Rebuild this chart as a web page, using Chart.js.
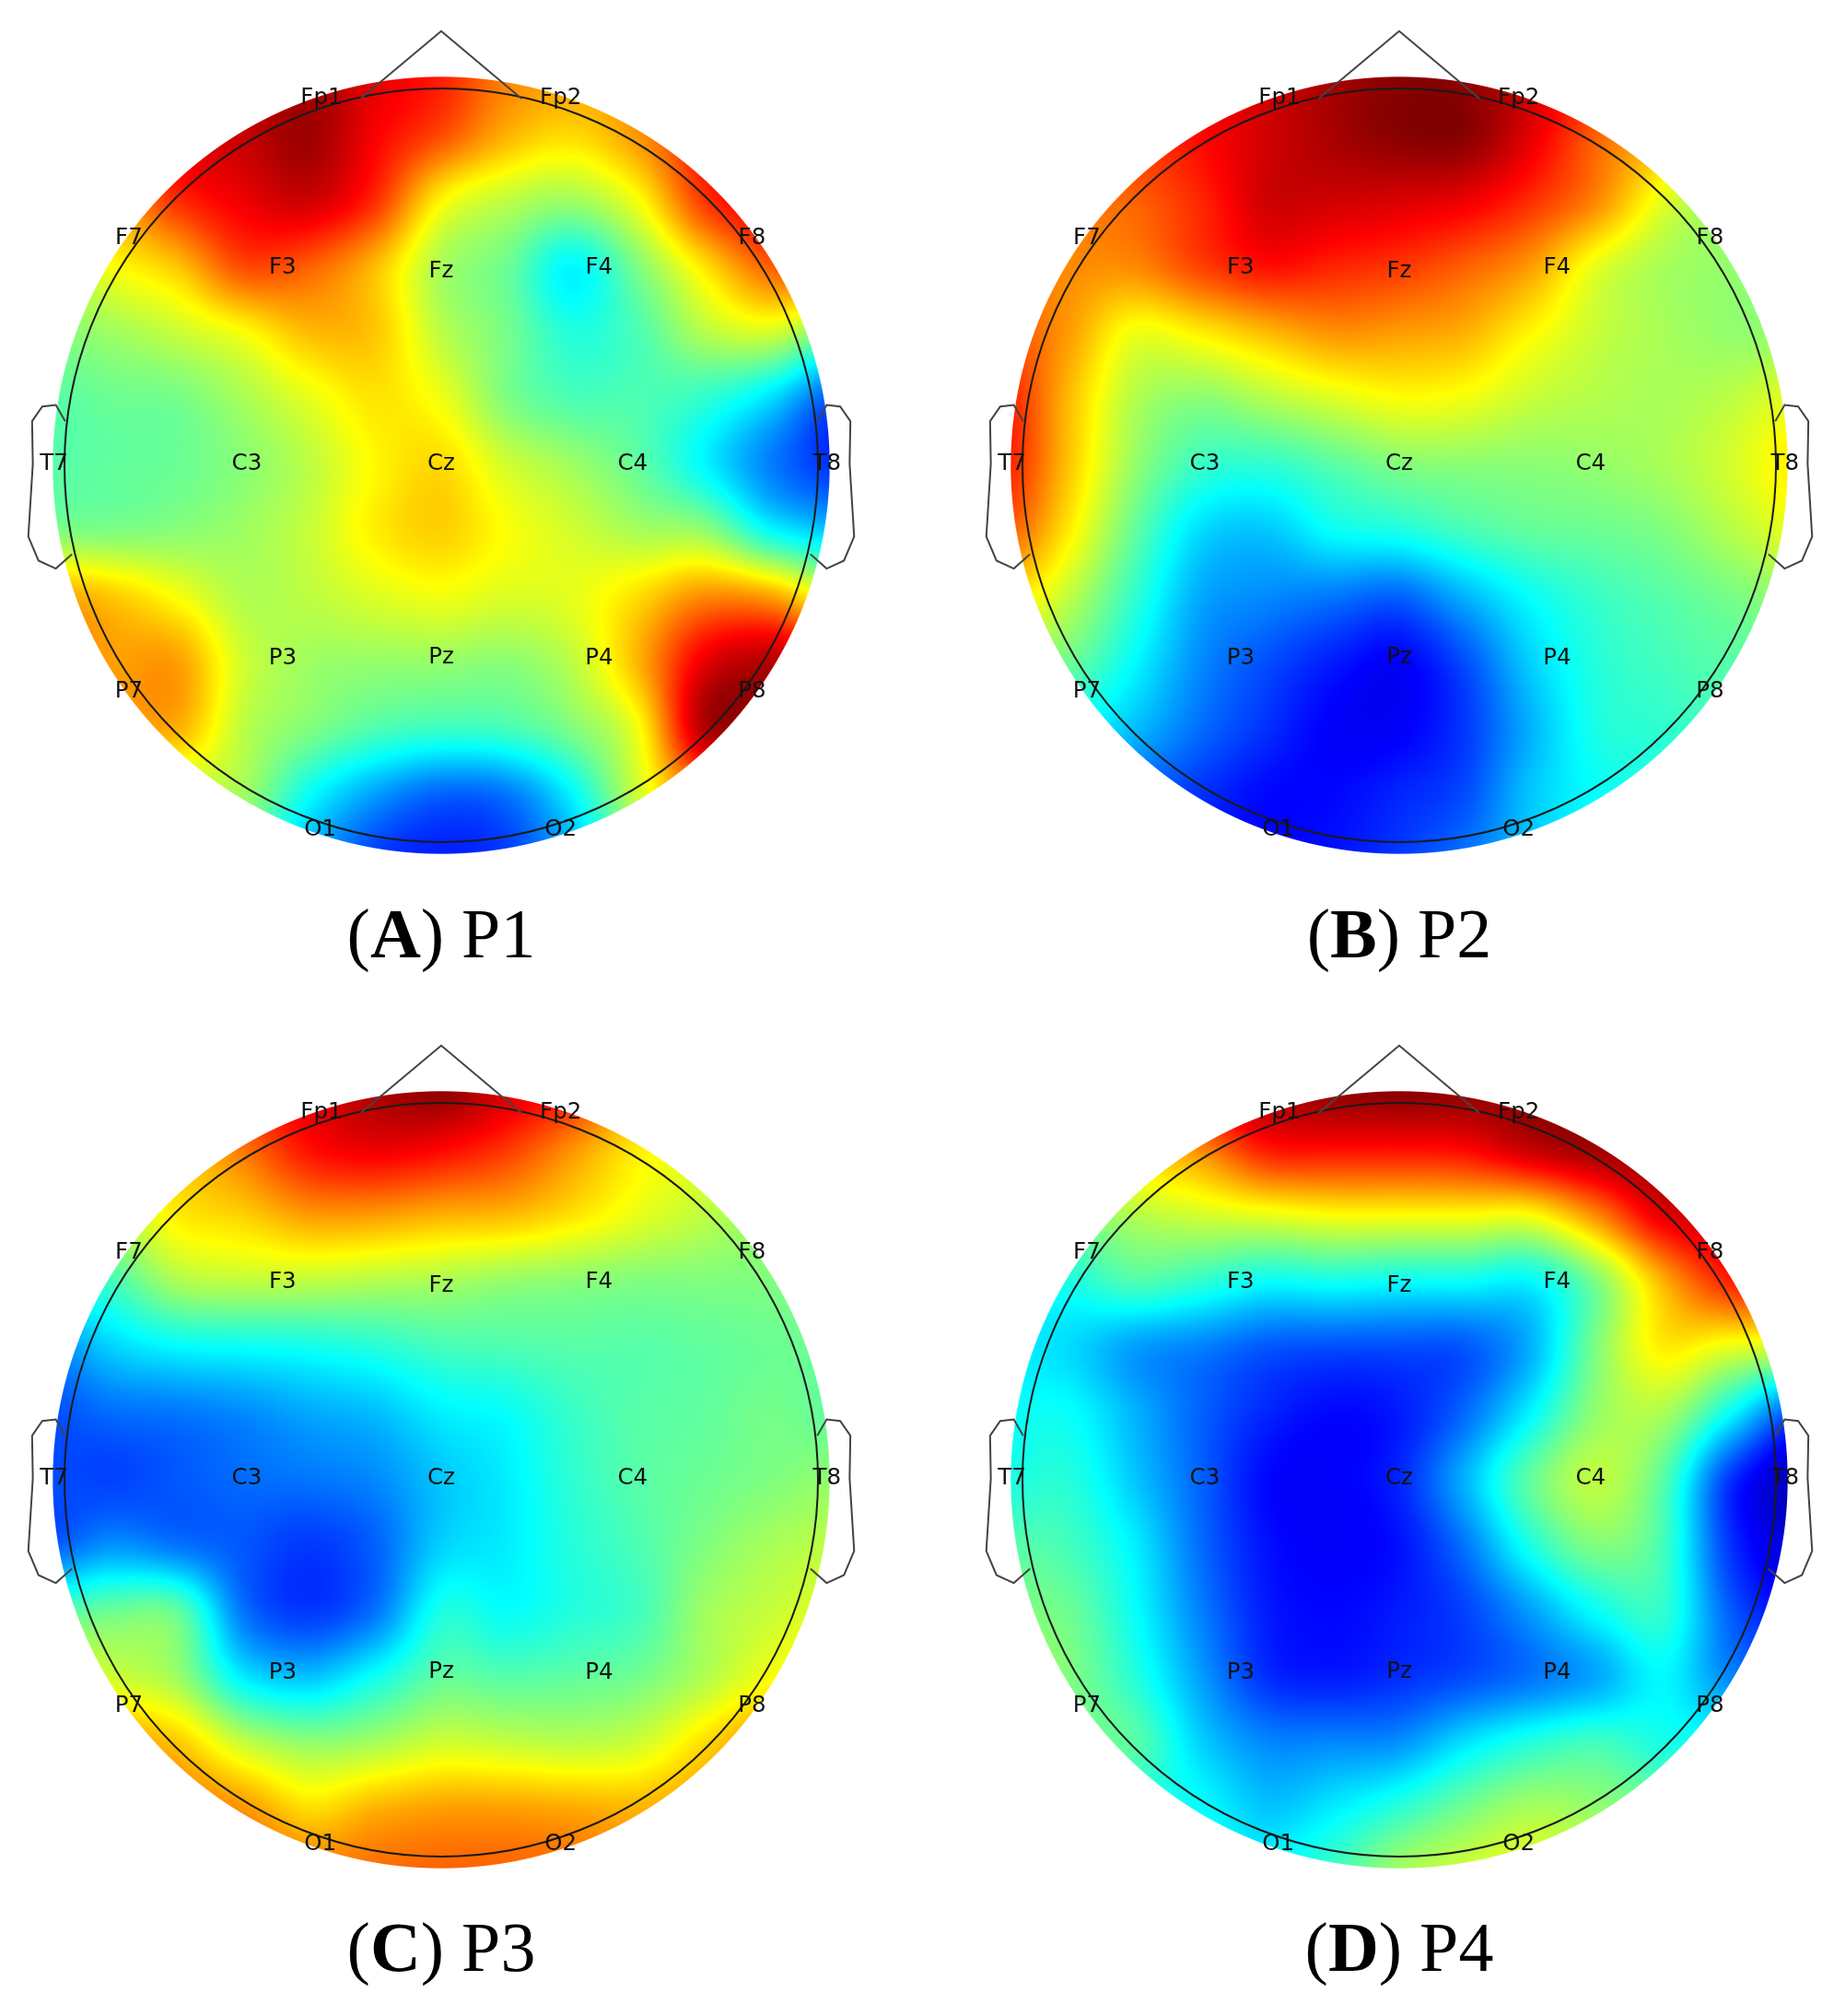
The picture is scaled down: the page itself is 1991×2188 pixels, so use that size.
<!DOCTYPE html>
<html>
<head>
<meta charset="utf-8">
<title>Topographic maps P1-P4</title>
<script src="https://cdn.jsdelivr.net/npm/chart.js@4/dist/chart.umd.min.js"></script>
<style>
  html, body { margin: 0; padding: 0; background: #fff; }
  body { position: relative; width: 1991px; height: 2188px; overflow: hidden; }
  canvas { position: absolute; filter: blur(0.7px); }
  .caption { position: absolute; width: 700px; text-align: center; font: 76px "Liberation Serif", serif; line-height: 90px; color: #000; }
</style>
</head>
<body>
<canvas id="mapA" width="920" height="980" style="left:19px;top:15px"></canvas>
<canvas id="mapB" width="920" height="980" style="left:1059px;top:15px"></canvas>
<canvas id="mapC" width="920" height="980" style="left:19px;top:1116px"></canvas>
<canvas id="mapD" width="920" height="980" style="left:1059px;top:1116px"></canvas>
<div class="caption" style="left:129px;top:968px">(<b>A</b>) P1</div>
<div class="caption" style="left:1169px;top:968px">(<b>B</b>) P2</div>
<div class="caption" style="left:129px;top:2068px">(<b>C</b>) P3</div>
<div class="caption" style="left:1169px;top:2068px">(<b>D</b>) P4</div>

<script>
// electrode names and where they sit on the unit head
var electrodes = ["Fp1","Fp2","F7","F3","Fz","F4","F8","T7","C3","Cz","C4","T8","P7","P3","Pz","P4","P8","O1","O2"];
var electrodeX = [-0.318,0.317,-0.829,-0.421,0,0.419,0.825,-1.028,-0.516,0,0.508,1.024,-0.829,-0.421,0,0.419,0.825,-0.321,0.317];
var electrodeY = [0.973,0.973,0.602,0.524,0.515,0.524,0.602,0.003,0.003,0.003,0.003,0.003,-0.6,-0.513,-0.509,-0.513,-0.6,-0.968,-0.968];

// head outline
var noseX = [-0.214,0,0.213];
var noseY = [0.973,1.152,0.973];
var earX = [0.998,1.023,1.059,1.086,1.084,1.096,1.069,1.023,0.980];
var earY = [0.117,0.160,0.156,0.117,0.004,-0.189,-0.253,-0.274,-0.236];
var earLeftX = earX.map(function(v){ return -v; });

// sample positions for the amplitude grids, rows run top to bottom
var gridX = [-1.05,-0.875,-0.7,-0.525,-0.35,-0.175,0,0.175,0.35,0.525,0.7,0.875,1.05];
var gridY = [1.05,0.875,0.7,0.525,0.35,0.175,0,-0.175,-0.35,-0.525,-0.7,-0.875,-1.05];

// amplitudes on the jet scale 0-100
var gridA = [
  [90,90,90,92,95,90,85,75,72,72,75,80,80],
  [85,88,90,93,97,88,80,70,66,73,85,88,88],
  [70,72,83,89,92,83,63,56,53,62,82,90,90],
  [55,62,68,80,78,69,54,48,37,50,65,78,80],
  [50,53,57,62,69,68,56,49,41,45,55,58,48],
  [46,48,49,54,60,65,61,50,45,45,42,34,20],
  [46,47,48,51,56,63,66,58,53,47,37,25,17],
  [50,50,51,53,57,64,67,62,58,54,52,38,32],
  [72,68,62,55,56,59,61,59,60,66,74,72,60],
  [76,72,72,58,53,52,52,51,56,70,90,95,90],
  [68,70,70,56,50,45,43,44,50,62,95,95,90],
  [55,55,55,53,38,28,22,24,37,58,75,80,80],
  [50,50,50,45,30,18,15,18,30,50,60,70,70]
];
var gridB = [
  [85,85,85,88,92,96,99,98,92,85,75,65,60],
  [80,80,82,87,92,96,99,99,90,78,70,60,55],
  [76,76,78,84,92,92,91,89,83,74,60,52,50],
  [76,74,74,81,86,84,82,78,72,60,54,52,50],
  [80,72,61,64,69,73,72,70,63,57,54,52,52],
  [85,69,55,51,55,59,62,61,57,55,54,56,60],
  [85,68,52,43,42,46,50,51,51,52,54,58,64],
  [79,64,47,34,32,38,40,44,47,48,50,55,60],
  [66,56,42,29,26,24,22,30,38,43,46,49,52],
  [52,48,37,26,20,15,12,20,33,41,44,46,46],
  [40,38,31,23,17,12,12,18,30,40,42,44,44],
  [25,25,22,17,13,13,16,20,32,38,40,42,42],
  [18,18,16,14,13,14,18,24,32,38,40,40,40]
];
var gridC = [
  [70,72,78,85,90,96,99,92,85,70,65,60,58],
  [60,62,68,76,86,89,87,82,73,64,60,55,52],
  [50,55,64,67,72,72,70,69,65,60,56,52,50],
  [38,44,54,56,56,55,54,52,51,50,50,50,50],
  [25,33,37,38,39,41,44,45,46,46,47,48,48],
  [20,23,24,26,29,31,36,38,43,46,47,49,47],
  [20,19,21,23,24,26,32,36,42,46,48,50,52],
  [21,27,24,21,18,22,33,36,41,45,50,54,56],
  [45,48,47,24,18,24,40,38,41,44,53,57,60],
  [62,58,53,36,32,39,47,46,47,49,55,62,66],
  [72,72,68,57,52,54,58,57,56,58,66,74,72],
  [76,76,76,73,66,70,72,72,71,70,73,76,74],
  [78,78,78,78,76,77,78,78,77,74,74,74,74]
];
var gridD = [
  [70,75,85,92,96,99,100,99,98,97,95,90,88],
  [60,62,68,74,85,86,86,87,93,97,98,95,92],
  [48,50,55,58,60,62,62,62,62,74,90,92,90],
  [38,40,45,42,38,39,38,38,37,50,70,84,85],
  [36,34,28,25,21,20,20,21,30,50,64,60,58],
  [38,38,30,22,16,13,15,23,37,52,54,38,20],
  [40,41,32,22,13,12,16,30,47,56,46,18,6],
  [46,44,36,23,14,12,14,24,40,50,44,18,8],
  [50,48,38,25,15,13,15,19,28,38,42,22,12],
  [54,50,41,28,17,15,17,20,24,29,37,26,22],
  [48,48,46,33,26,26,27,35,41,44,40,38,36],
  [40,40,40,38,32,36,42,49,54,52,48,46,46],
  [38,38,38,38,38,44,54,58,60,56,52,50,50]
];

var headRadius = 409;    // px for one head unit
var discRadius = 1.031;  // the colour runs a bit past the head circle

function clamp01(v){
  return v < 0 ? 0 : (v > 1 ? 1 : v);
}

function jet(v){
  var t = clamp01(v / 100);
  return [
    255 * clamp01(Math.min(4 * t - 1.5, -4 * t + 4.5)),
    255 * clamp01(Math.min(4 * t - 0.5, -4 * t + 3.5)),
    255 * clamp01(Math.min(4 * t + 0.5, -4 * t + 2.5))
  ];
}

function cubic(a, b, c, d, t){
  return b + 0.5 * t * (c - a + t * (2 * a - 5 * b + 4 * c - d + t * (3 * (b - c) + d - a)));
}

function sampleGrid(grid, x, y){
  var step = gridX[1] - gridX[0];
  var last = gridX.length - 1;
  var fx = (x - gridX[0]) / step;
  var fy = (gridY[0] - y) / step;
  var ix = Math.max(0, Math.min(last - 1, Math.floor(fx)));
  var iy = Math.max(0, Math.min(last - 1, Math.floor(fy)));
  var col = [];
  for(var j = -1; j <= 2; j++){
    var row = grid[Math.max(0, Math.min(last, iy + j))];
    col.push(cubic(
      row[Math.max(0, ix - 1)], row[ix], row[ix + 1], row[Math.min(last, ix + 2)], fx - ix
    ));
  }
  return cubic(col[0], col[1], col[2], col[3], fy - iy);
}

// paints the field, one pixel at a time, through the chart scales
var fieldPlugin = {
  id: "field",
  beforeDatasetsDraw: function(chart){
    var grid = chart.options.plugins.field.grid;
    var sx = chart.scales.x;
    var sy = chart.scales.y;
    var w = chart.width;
    var h = chart.height;
    var unit = Math.abs(sx.getPixelForValue(1) - sx.getPixelForValue(0));
    var img = chart.ctx.createImageData(w, h);
    for(var py = 0; py < h; py++){
      var yv = sy.getValueForPixel(py + 0.5);
      for(var px = 0; px < w; px++){
        var xv = sx.getValueForPixel(px + 0.5);
        var dist = Math.sqrt(xv * xv + yv * yv);
        var alpha = clamp01((discRadius - dist) * unit + 0.5);
        if(alpha <= 0) continue;
        var c = jet(sampleGrid(grid, xv, yv));
        var k = (py * w + px) * 4;
        img.data[k] = c[0];
        img.data[k + 1] = c[1];
        img.data[k + 2] = c[2];
        img.data[k + 3] = 255 * alpha;
      }
    }
    chart.ctx.putImageData(img, 0, 0);

    chart.ctx.save();
    chart.ctx.strokeStyle = "#1a1a1a";
    chart.ctx.lineWidth = 2;
    chart.ctx.beginPath();
    chart.ctx.arc(sx.getPixelForValue(0), sy.getPixelForValue(0), unit, 0, Math.PI * 2);
    chart.ctx.stroke();
    chart.ctx.restore();
  }
};

// electrode names go on top of everything
var namePlugin = {
  id: "names",
  afterDatasetsDraw: function(chart){
    var ctx = chart.ctx;
    ctx.save();
    ctx.font = "24.5px 'DejaVu Sans'";
    ctx.fillStyle = "#111";
    ctx.textAlign = "center";
    ctx.textBaseline = "middle";
    electrodes.forEach(function(name, i){
      ctx.fillText(name, chart.scales.x.getPixelForValue(electrodeX[i]), chart.scales.y.getPixelForValue(electrodeY[i]));
    });
    ctx.restore();
  }
};

function toPoints(xs, ys){
  return xs.map(function(x, i){ return {x: x, y: ys[i]}; });
}

function outline(xs, ys){
  return {
    data: toPoints(xs, ys),
    showLine: true,
    borderColor: "#444",
    borderWidth: 2,
    pointRadius: 0,
    fill: false,
    tension: 0
  };
}

function drawMap(id, grid){
  var canvas = document.getElementById(id);
  var halfW = canvas.width / 2 / headRadius;
  var halfH = canvas.height / 2 / headRadius;
  new Chart(canvas, {
    type: "scatter",
    data: {
      datasets: [outline(noseX, noseY), outline(earX, earY), outline(earLeftX, earY)]
    },
    options: {
      responsive: false,
      animation: false,
      layout: { padding: 0 },
      events: [],
      plugins: {
        legend: { display: false },
        tooltip: { enabled: false },
        field: { grid: grid }
      },
      scales: {
        x: { type: "linear", display: false, min: -halfW, max: halfW },
        y: { type: "linear", display: false, min: -halfH, max: halfH }
      }
    },
    plugins: [fieldPlugin, namePlugin]
  });
}

drawMap("mapA", gridA);
drawMap("mapB", gridB);
drawMap("mapC", gridC);
drawMap("mapD", gridD);
</script>
</body>
</html>
